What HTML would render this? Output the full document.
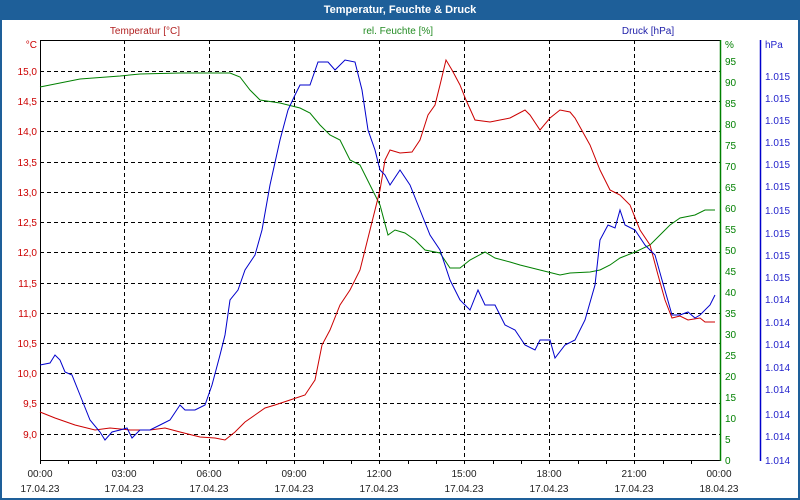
<!DOCTYPE html>
<html><head><meta charset="utf-8"><style>
html,body{margin:0;padding:0;background:#fff}
svg{display:block;font-family:"Liberation Sans",sans-serif}
</style></head><body>
<svg width="800" height="500" viewBox="0 0 800 500" xmlns="http://www.w3.org/2000/svg">
<rect x="0" y="0" width="800" height="500" fill="#1e5f99"/>
<rect x="2" y="20" width="796" height="478" fill="#fff"/>
<text x="400" y="13" fill="#fff" font-size="11" font-weight="bold" text-anchor="middle">Temperatur, Feuchte &amp; Druck</text>
<text x="145" y="34" fill="#b22222" font-size="10" text-anchor="middle">Temperatur [°C]</text>
<text x="398" y="34" fill="#228b22" font-size="10" text-anchor="middle">rel. Feuchte [%]</text>
<text x="648" y="34" fill="#2222aa" font-size="10" text-anchor="middle">Druck [hPa]</text>
<g stroke="#000" stroke-dasharray="4,3" stroke-width="1">
<line x1="124.5" y1="40" x2="124.5" y2="460"/><line x1="209.5" y1="40" x2="209.5" y2="460"/>
<line x1="294.5" y1="40" x2="294.5" y2="460"/><line x1="379.5" y1="40" x2="379.5" y2="460"/>
<line x1="464.5" y1="40" x2="464.5" y2="460"/><line x1="549.5" y1="40" x2="549.5" y2="460"/>
<line x1="634.5" y1="40" x2="634.5" y2="460"/>
<line x1="40" y1="71.5" x2="720" y2="71.5"/><line x1="40" y1="101.5" x2="720" y2="101.5"/>
<line x1="40" y1="131.5" x2="720" y2="131.5"/><line x1="40" y1="162.5" x2="720" y2="162.5"/>
<line x1="40" y1="192.5" x2="720" y2="192.5"/><line x1="40" y1="222.5" x2="720" y2="222.5"/>
<line x1="40" y1="252.5" x2="720" y2="252.5"/><line x1="40" y1="283.5" x2="720" y2="283.5"/>
<line x1="40" y1="313.5" x2="720" y2="313.5"/><line x1="40" y1="343.5" x2="720" y2="343.5"/>
<line x1="40" y1="373.5" x2="720" y2="373.5"/><line x1="40" y1="403.5" x2="720" y2="403.5"/>
<line x1="40" y1="434.5" x2="720" y2="434.5"/>
</g>
<g stroke="#000" stroke-width="1">
<line x1="40.5" y1="40" x2="40.5" y2="460"/><line x1="40" y1="40.5" x2="720" y2="40.5"/>
<line x1="40" y1="460.5" x2="720" y2="460.5"/>
</g>
<line x1="720.5" y1="40" x2="720.5" y2="461" stroke="#008000" stroke-width="1.5"/>
<line x1="760.5" y1="40" x2="760.5" y2="461" stroke="#0000cc" stroke-width="1.5"/>
<g font-size="10" fill="#cc0000" text-anchor="end">
<text x="37" y="48">°C</text>
<text x="37" y="75">15,0</text><text x="37" y="105">14,5</text><text x="37" y="135">14,0</text>
<text x="37" y="166">13,5</text><text x="37" y="196">13,0</text><text x="37" y="226">12,5</text>
<text x="37" y="256">12,0</text><text x="37" y="287">11,5</text><text x="37" y="317">11,0</text>
<text x="37" y="347">10,5</text><text x="37" y="377">10,0</text><text x="37" y="407">9,5</text>
<text x="37" y="438">9,0</text>
</g>
<g font-size="10" fill="#008000">
<text x="725" y="48">%</text>
<text x="725" y="65">95</text><text x="725" y="86">90</text><text x="725" y="107">85</text>
<text x="725" y="128">80</text><text x="725" y="149">75</text><text x="725" y="170">70</text>
<text x="725" y="191">65</text><text x="725" y="212">60</text><text x="725" y="233">55</text>
<text x="725" y="254">50</text><text x="725" y="275">45</text><text x="725" y="296">40</text>
<text x="725" y="317">35</text><text x="725" y="338">30</text><text x="725" y="359">25</text>
<text x="725" y="380">20</text><text x="725" y="401">15</text><text x="725" y="422">10</text>
<text x="725" y="443">5</text><text x="725" y="464">0</text>
</g>
<g font-size="10" fill="#2222cc">
<text x="765" y="48">hPa</text>
<text x="765" y="80">1.015</text><text x="765" y="102">1.015</text><text x="765" y="124">1.015</text>
<text x="765" y="146">1.015</text><text x="765" y="168">1.015</text><text x="765" y="190">1.015</text>
<text x="765" y="214">1.015</text><text x="765" y="237">1.015</text><text x="765" y="259">1.015</text>
<text x="765" y="281">1.015</text><text x="765" y="303">1.014</text><text x="765" y="326">1.014</text>
<text x="765" y="348">1.014</text><text x="765" y="371">1.014</text><text x="765" y="393">1.014</text>
<text x="765" y="418">1.014</text><text x="765" y="440">1.014</text><text x="765" y="464">1.014</text>
</g>
<g stroke="#000" stroke-width="1">
<line x1="68.5" y1="460" x2="68.5" y2="464"/><line x1="96.5" y1="460" x2="96.5" y2="464"/>
<line x1="124.5" y1="460" x2="124.5" y2="464"/><line x1="153.5" y1="460" x2="153.5" y2="464"/>
<line x1="181.5" y1="460" x2="181.5" y2="464"/><line x1="209.5" y1="460" x2="209.5" y2="464"/>
<line x1="238.5" y1="460" x2="238.5" y2="464"/><line x1="266.5" y1="460" x2="266.5" y2="464"/>
<line x1="294.5" y1="460" x2="294.5" y2="464"/><line x1="323.5" y1="460" x2="323.5" y2="464"/>
<line x1="351.5" y1="460" x2="351.5" y2="464"/><line x1="379.5" y1="460" x2="379.5" y2="464"/>
<line x1="408.5" y1="460" x2="408.5" y2="464"/><line x1="436.5" y1="460" x2="436.5" y2="464"/>
<line x1="464.5" y1="460" x2="464.5" y2="464"/><line x1="493.5" y1="460" x2="493.5" y2="464"/>
<line x1="521.5" y1="460" x2="521.5" y2="464"/><line x1="549.5" y1="460" x2="549.5" y2="464"/>
<line x1="578.5" y1="460" x2="578.5" y2="464"/><line x1="606.5" y1="460" x2="606.5" y2="464"/>
<line x1="634.5" y1="460" x2="634.5" y2="464"/><line x1="663.5" y1="460" x2="663.5" y2="464"/>
<line x1="691.5" y1="460" x2="691.5" y2="464"/><line x1="40.5" y1="460" x2="40.5" y2="464"/>
</g>
<g font-size="10" fill="#222" text-anchor="middle">
<text x="40" y="477">00:00</text><text x="124" y="477">03:00</text><text x="209" y="477">06:00</text>
<text x="294" y="477">09:00</text><text x="379" y="477">12:00</text><text x="464" y="477">15:00</text>
<text x="549" y="477">18:00</text><text x="634" y="477">21:00</text><text x="719" y="477">00:00</text>
<text x="40" y="492">17.04.23</text><text x="124" y="492">17.04.23</text><text x="209" y="492">17.04.23</text>
<text x="294" y="492">17.04.23</text><text x="379" y="492">17.04.23</text><text x="464" y="492">17.04.23</text>
<text x="549" y="492">17.04.23</text><text x="634" y="492">17.04.23</text><text x="719" y="492">18.04.23</text>
</g>
<polyline fill="none" stroke="#008000" stroke-width="1" points="40,87 60,83 80,79 120,76 140,74 180,73 230,73 240,77 250,90 260,100 280,103 300,108 310,113 320,125 330,135 340,140 350,160 360,165 370,185 380,205 388,235 395,230 405,233 415,240 425,250 440,253 450,268 460,268 470,260 485,252 495,258 510,262 520,265 540,270 560,275 570,273 590,272 600,270 610,265 620,258 635,252 650,245 660,235 670,225 680,218 695,215 705,210 715,210"/>
<polyline fill="none" stroke="#cc0000" stroke-width="1" points="40,412 55,418 75,425 95,430 110,428 130,430 150,430 165,428 180,432 200,437 215,438 225,440 235,432 245,422 255,415 265,408 275,405 290,400 305,395 315,380 322,345 330,330 340,305 350,290 360,270 370,230 380,190 385,160 390,150 400,153 412,152 420,140 428,115 435,105 440,85 446,60 452,70 460,85 466,100 475,120 490,122 500,120 510,118 525,110 530,115 540,130 550,118 560,110 570,112 575,118 590,145 600,170 610,190 620,195 630,205 640,230 650,245 658,275 665,300 672,318 680,316 688,320 700,318 705,322 715,322"/>
<polyline fill="none" stroke="#0000cc" stroke-width="1" points="40,365 50,363 55,355 60,360 65,372 72,375 80,395 90,420 100,432 105,440 112,432 120,430 127,428 132,438 140,430 150,430 160,425 170,420 180,405 185,410 195,410 205,405 212,385 220,355 225,335 230,300 238,290 245,270 255,255 262,230 270,185 280,140 288,110 295,95 300,85 310,85 318,62 328,62 335,70 345,60 355,62 362,90 368,130 375,150 380,170 385,175 390,185 400,170 410,185 420,210 430,235 440,250 450,280 460,300 470,310 478,290 485,305 495,305 505,325 515,330 525,345 535,350 540,340 550,340 555,358 565,345 575,340 585,320 595,285 600,240 608,225 615,228 620,210 625,225 635,230 645,245 655,255 662,280 672,315 680,315 688,312 695,318 700,315 710,305 715,295"/>
</svg>
</body></html>
